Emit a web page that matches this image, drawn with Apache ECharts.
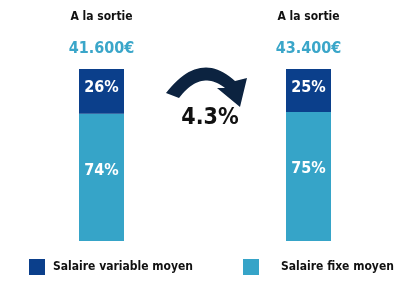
<!DOCTYPE html>
<html>
<head>
<meta charset="utf-8">
<script src="https://cdn.jsdelivr.net/npm/echarts@6/dist/echarts.min.js"></script>
<style>html,body{margin:0;padding:0;background:#fff}#c{width:400px;height:291px}</style>
</head>
<body>
<div id="c"></div>
<script>
const categories = ['A la sortie', '', 'A la sortie'];
const salaries = ['41.600€', '', '43.400€'];
const fixeValues = [74, null, 75];
const variableValues = [26, null, 25];
const growthLabel = '4.3%';
const seriesNames = ['Salaire variable moyen', 'Salaire fixe moyen'];

const FONT = '"DejaVu Sans Condensed", "Liberation Sans Narrow", sans-serif';
const DARK = '#0b3f8b';
const LIGHT = '#36a4c8';

// arrow outline (decoration): quadratic curves sampled into a polygon
function quad(p0, c, p1, n) {
  const pts = [];
  for (let i = 0; i <= n; i++) {
    const t = i / n, u = 1 - t;
    pts.push([u*u*p0[0] + 2*u*t*c[0] + t*t*p1[0], u*u*p0[1] + 2*u*t*c[1] + t*t*p1[1]]);
  }
  return pts;
}
const arrowPts = [].concat(
  quad([166, 93], [200, 49], [235, 81], 24),
  [[247, 78], [240, 107], [217, 88]],
  quad([225, 88], [201, 69], [179, 98], 24)
);

const chart = echarts.init(document.getElementById('c'), null, {renderer: 'canvas'});
chart.setOption({
  animation: false,
  grid: {left: 49.75, right: 39.75, top: 69, bottom: 50},
  xAxis: {
    type: 'category',
    position: 'top',
    data: categories,
    axisLine: {show: false},
    axisTick: {show: false},
    axisLabel: {
      margin: 10,
      interval: 0,
      formatter: (v, i) => v ? '{t|' + v + '}\n{s|' + salaries[i] + '}' : '',
      rich: {
        t: {fontFamily: FONT, fontWeight: 'bold', fontSize: 12, color: '#111', lineHeight: 44},
        s: {fontFamily: FONT, fontWeight: 'bold', fontSize: 16, color: '#3aa6c9', lineHeight: 20}
      }
    }
  },
  yAxis: {type: 'value', min: 0, max: 100, show: false},
  legend: [
    {data: [seriesNames[0]], left: 29, top: 259, padding: 0, itemWidth: 16, itemHeight: 16, icon: 'rect', itemGap: 0,
     textStyle: {fontFamily: FONT, fontWeight: 'bold', fontSize: 12, color: '#111', padding: [0, 0, 0, 3]}},
    {data: [seriesNames[1]], left: 243, top: 259, padding: 0, itemWidth: 16, itemHeight: 16, icon: 'rect', itemGap: 0,
     textStyle: {fontFamily: FONT, fontWeight: 'bold', fontSize: 12, color: '#111', padding: [0, 0, 0, 17]}}
  ],
  series: [
    {name: seriesNames[1], type: 'bar', stack: 's', data: fixeValues, barWidth: 45,
     itemStyle: {color: LIGHT},
     label: {show: true, position: ['50%', 57], align: 'center', verticalAlign: 'middle', formatter: '{c}%', color: '#fff',
             fontFamily: FONT, fontWeight: 'bold', fontSize: 16}},
    {name: seriesNames[0], type: 'bar', stack: 's', data: variableValues, barWidth: 45,
     itemStyle: {color: DARK},
     label: {show: true, position: ['50%', 19], align: 'center', verticalAlign: 'middle', formatter: '{c}%', color: '#fff',
             fontFamily: FONT, fontWeight: 'bold', fontSize: 16}}
  ],
  graphic: [
    {type: 'polygon', shape: {points: arrowPts}, style: {fill: '#0c2340'}},
    {type: 'text', x: 210, y: 118, style: {text: growthLabel, align: 'center', verticalAlign: 'middle',
      fontFamily: FONT, fontWeight: 'bold', fontSize: 23, fill: '#111'}}
  ]
});
</script>
</body>
</html>
